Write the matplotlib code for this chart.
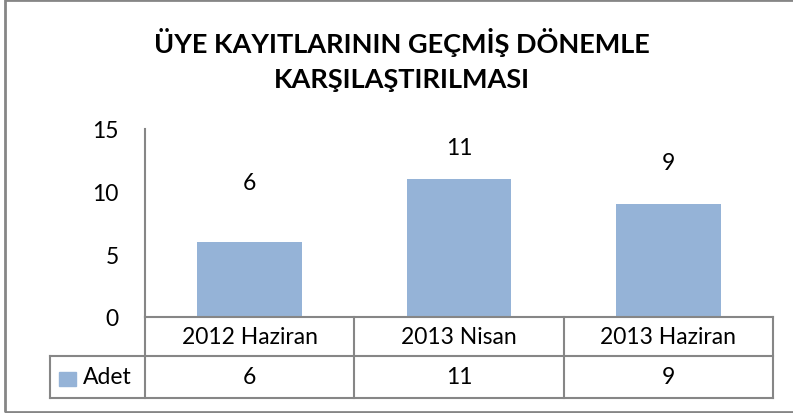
import matplotlib.pyplot as plt
from matplotlib.patches import Rectangle
import matplotlib.transforms as mtransforms

categories = ['2012 Haziran', '2013 Nisan', '2013 Haziran']
adet = [6, 11, 9]
series_name = 'Adet'
title = 'ÜYE KAYITLARININ GEÇMİŞ DÖNEMLE\nKARŞILAŞTIRILMASI'
yticks = [0, 5, 10, 15]
# manual label positions (points above bar top), as placed in the original
label_offsets = [43, 23, 30]

bar_color = '#95b3d7'
line_color = '#868686'
W, H = 793, 414
fs = 16.5

plt.rcParams['font.family'] = ['Lato', 'DejaVu Sans']

fig = plt.figure(figsize=(W / 100, H / 100), dpi=100)
ax = fig.add_axes([145 / W, (H - 318) / H, 628 / W, 188 / H])

x = range(len(categories))
ax.bar(x, adet, width=0.5, color=bar_color)
for i, v in enumerate(adet):
    ax.annotate(str(v), (i, v), xytext=(0, label_offsets[i]), textcoords='offset points',
                ha='center', va='center', fontsize=fs)

ax.set_xlim(-0.5, len(categories) - 0.5)
ax.set_ylim(0, 15)
ax.set_yticks(yticks)
ax.set_xticks([])
ax.tick_params(axis='y', length=0, labelsize=fs, pad=19)
for s in ['top', 'right']:
    ax.spines[s].set_visible(False)
for s in ['left', 'bottom']:
    ax.spines[s].set_color(line_color)
    ax.spines[s].set_linewidth(1.5)

# data table below the plot: x in data units, y in axes units
tr = mtransforms.blended_transform_factory(ax.transData, ax.transAxes)
n = len(categories)
row1 = -39 / 188
row2 = -81 / 188
key_left = -0.5 - 95 / 209
lw = 1.5
kw = dict(transform=tr, color=line_color, lw=lw, clip_on=False)
for xb in [i - 0.5 for i in range(n + 1)]:
    ax.plot([xb, xb], [0, row2], **kw)
ax.plot([key_left, key_left], [row1, row2], **kw)
ax.plot([key_left, n - 0.5], [row1, row1], **kw)
ax.plot([key_left, n - 0.5], [row2, row2], **kw)
for i, (c, v) in enumerate(zip(categories, adet)):
    ax.text(i, row1 / 2, c, transform=tr, ha='center', va='center', fontsize=fs)
    ax.text(i, (row1 + row2) / 2, str(v), transform=tr, ha='center', va='center', fontsize=fs)
ax.text(-0.5 - 13 / 209, (row1 + row2) / 2, series_name, transform=tr,
        ha='right', va='center', fontsize=fs)
ax.add_patch(Rectangle((-0.5 - 86 / 209, -69 / 188), 17 / 209, 14 / 188,
                       transform=tr, color=bar_color, clip_on=False))

fig.text(402 / W, (H - 60) / H, title, ha='center', va='center',
         fontsize=19.5, fontweight='bold', linespacing=1.55)

# chart border
fig.add_artist(Rectangle((5 / W, 1.5 / H), 1.0, (H - 2) / H, transform=fig.transFigure,
                         fill=False, edgecolor=line_color, linewidth=2))

fig.savefig('out.png', dpi=100)
